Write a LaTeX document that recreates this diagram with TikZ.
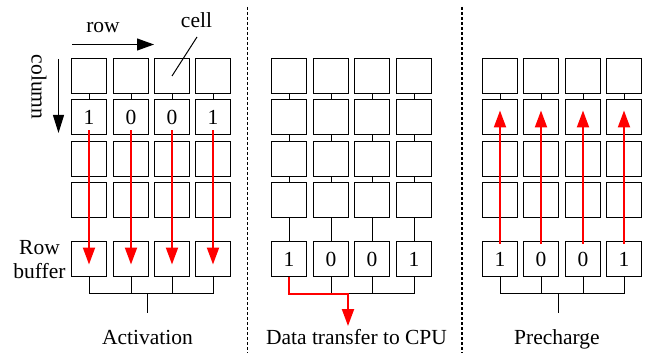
\documentclass[tikz,border=0pt]{standalone}
\usepackage{fontspec}
\setmainfont{Liberation Serif}
\usetikzlibrary{arrows.meta}
\begin{document}
\begin{tikzpicture}[x=1pt,y=-1pt,
  font=\rmfamily\fontsize{21.5}{24}\selectfont,
  cellbox/.style={draw, line width=1pt, minimum width=35pt, minimum height=35pt, inner sep=0pt, outer sep=0pt},
  wire/.style={line width=1pt},
  redarrow/.style={draw=red, line width=2pt, -{Triangle[length=17pt,width=12pt]}},
  blackarrow/.style={line width=1pt, -{Triangle[length=17pt,width=12pt]}},
  sepline/.style={line width=1.5pt, dash pattern=on 3pt off 2pt},
  lbl/.style={anchor=base, inner sep=0pt}
]
\useasboundingbox (0,0) rectangle (649,353);

% cells
\foreach \p/\xa/\xb/\xc/\xd in {1/89/131/172/213,2/289/331/372/414,3/500/541/583/624}{
  \foreach \c/\d/\x in {1/1/\xa,2/0/\xb,3/0/\xc,4/1/\xd}{
    \foreach \r/\y in {1/76,2/117,3/159,4/200}{
      \node[cellbox] (p\p r\r c\c) at (\x,\y) {\ifnum\p=1 \ifnum\r=2 \d\fi\fi};
    }
    \node[cellbox] (p\p b\c) at (\x,259) {\ifnum\p>1 \d\fi};
    \draw[wire] (p\p r1c\c) -- (p\p r2c\c);
    \draw[wire] (p\p r2c\c) -- (p\p r3c\c);
    \draw[wire] (p\p r3c\c) -- (p\p r4c\c);
    \draw[wire] (p\p r4c\c) -- (p\p b\c);
  }
}

% buses
\foreach \p/\s in {1/147.5,2/347.5,3/558.5}{
  \coordinate (p\p bus) at (\s,293.5);
  \coordinate (p\p stem) at (\s,313);
  \draw[wire] (p\p b1.south) |- (p\p bus) -| (p\p b4.south);
  \draw[wire] (p\p b2.south) -- (p\p b2.south |- p\p bus);
  \draw[wire] (p\p b3.south) -- (p\p b3.south |- p\p bus);
}
\draw[wire] (p1bus) -- (p1stem);
\draw[wire] (p3bus) -- (p3stem);

% red arrows
\foreach \c in {1,...,4}{
  \draw[redarrow] ([yshift=4pt]p1r2c\c.south) -- ([yshift=12pt]p1b\c.south);
  \draw[redarrow] ([yshift=-2pt]p3b\c.north) -- ([yshift=-11pt]p3r2c\c.north);
}
\coordinate (p2corner) at (348,293.5);
\coordinate (p2end) at (348,326);
\draw[redarrow] (p2b1.south) |- (p2corner) -- (p2end);

% separators
\coordinate (s1a) at (247.5,7); \coordinate (s1b) at (247.5,353);
\coordinate (s2a) at (462,7); \coordinate (s2b) at (462,353);
\draw[sepline] (s1a) -- (s1b);
\draw[sepline] (s2a) -- (s2b);

% row / column / cell annotations
\coordinate (rowA) at (72,44.5); \coordinate (rowB) at (154,44.5);
\draw[blackarrow] (rowA) -- (rowB);
\node[lbl] (rowlbl) at (103,33) {row};
\coordinate (colA) at (58.5,59); \coordinate (colB) at (58.5,133);
\draw[line width=1pt, -{Triangle[length=18pt,width=11pt]}] (colA) -- (colB);
\node[rotate=-90, inner sep=0pt] (collbl) at (39,87) {column};
\node[lbl] (celllbl) at (196.5,28) {cell};
\coordinate (cellA) at (197,37);
\draw[wire] (cellA) -- (p1r1c3.center);

% row buffer label
\node[lbl] (rowtxt) at (39.5,254) {Row};
\node[lbl] (buftxt) at (39.5,278) {buffer};

% captions
\node[lbl] (cap1) at (147.5,344.5) {Activation};
\node[lbl] (cap2) at (356.5,344.5) {Data transfer to CPU};
\node[lbl] (cap3) at (557,344.5) {Precharge};
\end{tikzpicture}
\end{document}
